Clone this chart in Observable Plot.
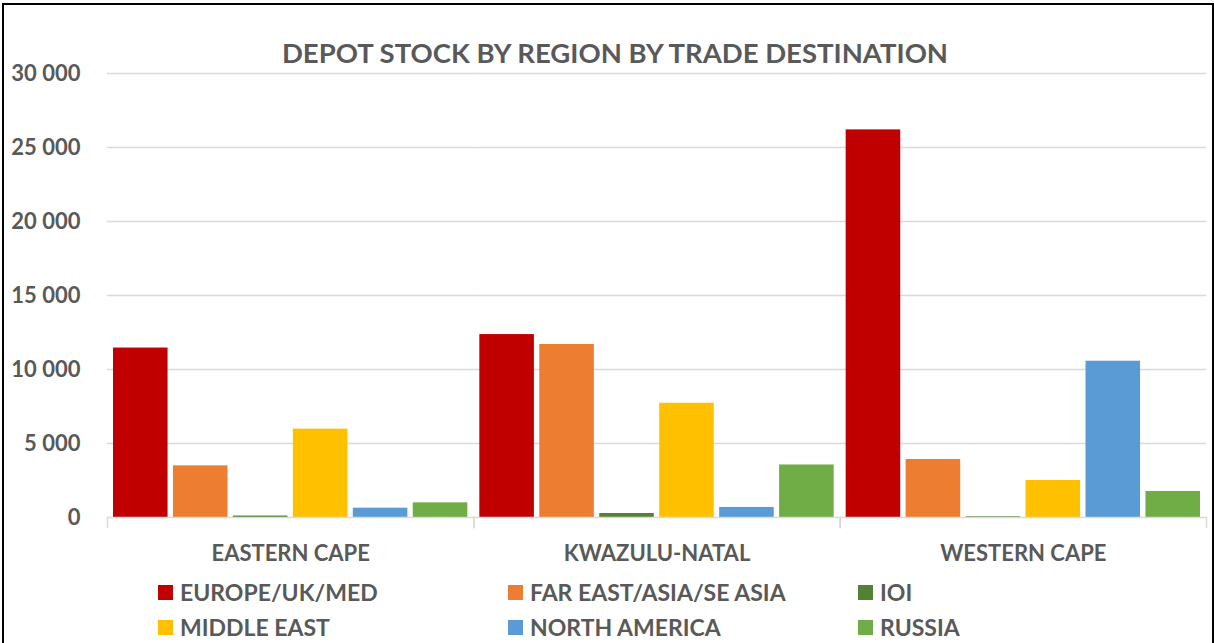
<!DOCTYPE html>
<html>
<head>
<meta charset="utf-8">
<script src="https://cdn.jsdelivr.net/npm/d3@7"></script>
<script src="https://cdn.jsdelivr.net/npm/@observablehq/plot@0.6"></script>
<style>
  html, body { margin: 0; padding: 0; background: #fff; }
  #wrap { position: relative; width: 1214px; height: 643px; overflow: hidden; background: #fff; font-family: Lato, "Open Sans", sans-serif; font-weight: bold; color: #595959; }
  #border { position: absolute; left: 2px; top: 3px; width: 1208px; height: 700px; border: 2px solid #000; box-sizing: content-box; pointer-events: none; }
  #title { position: absolute; left: 8px; width: 1214px; top: 39px; text-align: center; font-size: 27.5px; line-height: 1; }
  #chart { position: absolute; left: 0; top: 0; }
  .leg { position: absolute; display: flex; align-items: center; height: 30px; font-size: 23px; line-height: 1; white-space: nowrap; }
  .sw { width: 15px; height: 15px; margin-right: 7px; flex: none; }
</style>
</head>
<body>
<div id="wrap">
  <div id="chart"></div>
  <div id="title"></div>
  <div id="legend"></div>
  <div id="border"></div>
</div>
<script>
const title = "DEPOT STOCK BY REGION BY TRADE DESTINATION";
const regions = ["EASTERN CAPE", "KWAZULU-NATAL", "WESTERN CAPE"];
const destinations = ["EUROPE/UK/MED", "FAR EAST/ASIA/SE ASIA", "IOI", "MIDDLE EAST", "NORTH AMERICA", "RUSSIA"];
const easternCape = [11450, 3490, 100, 5970, 630, 990];
const kwazuluNatal = [12360, 11690, 270, 7720, 680, 3550];
const westernCape = [26190, 3920, 50, 2500, 10560, 1760];
const colors = ["#C00000", "#ED7D31", "#548235", "#FFC000", "#5B9BD5", "#70AD47"];
const yTicks = [0, 5000, 10000, 15000, 20000, 25000, 30000];

const seriesByRegion = [easternCape, kwazuluNatal, westernCape];
const data = [];
regions.forEach((r, i) => destinations.forEach((d, j) => data.push({region: r, dest: d, value: seriesByRegion[i][j]})));

const W = 1214, H = 570, mL = 107, mR = 8, mT = 73, mB = 53;
const fmt = d => d3.format(",")(d).replace(/,/g, " ");

const chart = Plot.plot({
  width: W, height: H,
  marginLeft: mL, marginRight: mR, marginTop: mT, marginBottom: mB,
  style: {fontFamily: "Lato, sans-serif", fontWeight: "bold", fontSize: "22px", color: "#595959", background: "transparent", overflow: "visible"},
  fx: {domain: regions, padding: 0, round: false, label: null},
  x: {domain: destinations, paddingInner: 0.09, paddingOuter: 0.1, round: false, axis: null},
  y: {domain: [0, 30000], label: null},
  color: {domain: destinations, range: colors},
  marks: [
    Plot.gridY(yTicks.filter(d => d > 0), {stroke: "#d9d9d9", strokeOpacity: 1, strokeWidth: 1.5}),
    Plot.axisY(yTicks, {tickSize: 0, tickPadding: 27, tickFormat: fmt, fill: "#595959", fontSize: 22, fontWeight: "bold", label: null}),
    Plot.axisFx({anchor: "bottom", tickSize: 0, tickPadding: 28, label: null, fill: "#595959", fontSize: 22, fontWeight: "bold"}),
    Plot.barY(data, {fx: "region", x: "dest", y: "value", fill: "dest"}),
    Plot.ruleY([0], {stroke: "#d9d9d9", strokeWidth: 1.5}),
    Plot.frame({anchor: "left", stroke: "#d9d9d9", strokeWidth: 1.5, insetTop: H - mT - mB, insetBottom: -10}),
    Plot.frame({anchor: "right", stroke: "#d9d9d9", strokeWidth: 1.5, insetTop: H - mT - mB, insetBottom: -10})
  ]
});
document.getElementById("chart").appendChild(chart);
document.getElementById("title").textContent = title;

const legend = document.getElementById("legend");
const colX = [158, 508, 858];
const rowTop = [577, 612];
destinations.forEach((d, i) => {
  const item = document.createElement("div");
  item.className = "leg";
  item.style.left = colX[i % 3] + "px";
  item.style.top = rowTop[Math.floor(i / 3)] + "px";
  const sw = document.createElement("div");
  sw.className = "sw";
  sw.style.background = colors[i];
  const t = document.createElement("span");
  t.textContent = d;
  item.appendChild(sw);
  item.appendChild(t);
  legend.appendChild(item);
});
</script>
</body>
</html>
